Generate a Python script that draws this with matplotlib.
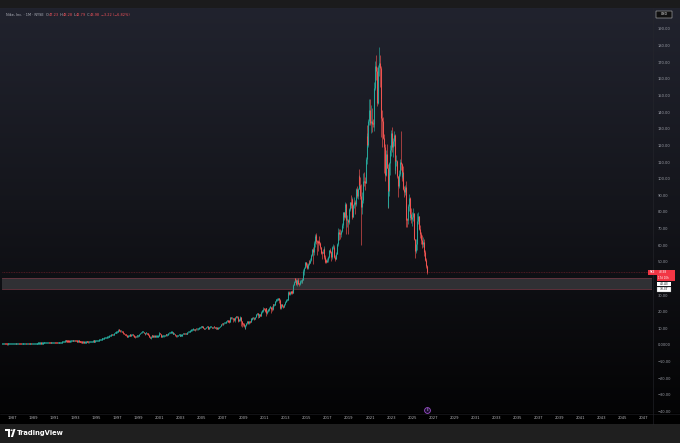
import numpy as np
import matplotlib
matplotlib.use("Agg")
import matplotlib.pyplot as plt
from matplotlib.patches import Rectangle, Polygon, Circle

# ---------------- data (NKE monthly) ----------------
start_year = 1986
first_open = 0.29
closes = [
    0.30, 0.32, 0.34, 0.36, 0.33, 0.31, 0.29, 0.30, 0.31, 0.33, 0.35, 0.36,  # 1986
    0.38, 0.42, 0.45, 0.47, 0.44, 0.46, 0.50, 0.52, 0.49, 0.36, 0.34, 0.36,  # 1987
    0.38, 0.40, 0.42, 0.44, 0.43, 0.45, 0.47, 0.46, 0.48, 0.50, 0.49, 0.52,  # 1988
    0.55, 0.58, 0.62, 0.66, 0.70, 0.75, 0.80, 0.86, 0.90, 0.84, 0.88, 0.92,  # 1989
    0.95, 1.00, 1.05, 1.10, 1.18, 1.22, 1.15, 0.98, 0.95, 1.02, 1.10, 1.12,  # 1990
    1.18, 1.05, 0.98, 0.95, 1.05, 1.10, 1.15, 1.30, 1.45, 1.60, 1.75, 2.05,  # 1991
    2.15, 2.25, 2.10, 2.05, 2.00, 1.95, 2.10, 2.20, 2.30, 2.45, 2.40, 2.55,  # 1992
    2.35, 2.20, 2.05, 2.10, 2.00, 1.85, 1.65, 1.50, 1.40, 1.45, 1.35, 1.45,  # 1993
    1.60, 1.75, 1.55, 1.50, 1.60, 1.65, 1.85, 1.95, 2.00, 2.10, 2.05, 2.20,  # 1994
    2.35, 2.50, 2.65, 2.75, 2.95, 3.20, 3.45, 3.55, 3.75, 3.95, 4.20, 4.35,  # 1995
    4.55, 4.80, 4.95, 5.25, 5.60, 6.20, 6.10, 6.25, 7.00, 7.30, 7.40, 7.50,  # 1996
    8.10, 9.20, 8.70, 8.20, 8.30, 7.90, 7.60, 7.00, 6.40, 6.10, 6.00, 5.00,  # 1997
    5.30, 5.70, 5.75, 5.60, 5.90, 6.10, 5.70, 4.90, 4.70, 5.20, 5.10, 5.10,  # 1998
    5.60, 6.50, 7.10, 7.60, 7.90, 8.00, 7.20, 6.40, 7.10, 7.30, 6.60, 6.20,  # 1999
    4.90, 4.30, 4.95, 5.40, 5.30, 4.98, 5.10, 5.00, 5.00, 5.00, 5.40, 6.98,  # 2000
    7.10, 6.70, 5.07, 5.22, 5.22, 5.25, 5.90, 6.25, 5.85, 6.20, 6.90, 7.03,  # 2001
    7.43, 7.45, 7.50, 6.68, 6.70, 6.71, 6.00, 5.40, 5.40, 5.90, 6.00, 5.56,  # 2002
    5.57, 5.60, 6.43, 6.69, 6.68, 6.69, 6.45, 6.70, 7.60, 7.70, 8.00, 8.56,  # 2003
    8.72, 9.30, 9.74, 9.00, 8.85, 9.47, 9.40, 9.40, 9.85, 10.16, 10.55, 11.34,  # 2004
    10.80, 10.83, 10.42, 9.60, 10.25, 10.82, 11.45, 9.86, 10.21, 10.51, 10.80, 10.85,  # 2005
    10.05, 10.75, 10.64, 10.22, 10.00, 10.12, 9.88, 10.08, 10.95, 11.47, 12.40, 12.38,  # 2006
    12.35, 13.05, 13.28, 13.47, 14.12, 14.57, 14.10, 14.06, 14.67, 16.57, 16.00, 16.06,  # 2007
    15.40, 15.22, 17.00, 16.70, 17.09, 14.90, 14.68, 15.02, 16.72, 14.48, 12.77, 12.75,  # 2008
    11.28, 10.01, 11.72, 13.12, 14.27, 12.95, 14.16, 13.80, 16.17, 15.55, 16.14, 16.51,  # 2009
    15.45, 16.93, 18.38, 18.98, 18.10, 16.89, 18.43, 17.52, 20.03, 20.36, 21.76, 21.36,  # 2010
    20.62, 22.27, 18.93, 20.58, 21.08, 22.50, 22.58, 21.64, 21.38, 24.08, 24.06, 24.09,  # 2011
    26.66, 27.06, 27.12, 27.97, 27.03, 21.95, 23.34, 24.34, 23.73, 22.85, 24.36, 25.80,  # 2012
    27.03, 27.14, 29.51, 31.80, 30.85, 31.84, 31.46, 31.45, 36.32, 37.88, 39.56, 39.32,  # 2013
    36.43, 39.16, 36.93, 36.48, 38.46, 38.77, 38.57, 39.27, 44.61, 46.49, 49.64, 48.08,  # 2014
    46.13, 48.62, 50.17, 49.42, 50.84, 54.01, 57.61, 55.88, 61.48, 65.52, 65.50, 62.50,  # 2015
    62.00, 61.58, 61.47, 58.94, 55.22, 55.20, 55.81, 57.64, 52.65, 50.18, 50.05, 50.83,  # 2016
    52.95, 57.15, 55.73, 55.41, 52.99, 59.00, 59.05, 52.81, 51.85, 54.99, 60.41, 62.55,  # 2017
    68.22, 67.01, 66.44, 68.39, 71.84, 79.68, 76.91, 82.31, 84.72, 75.04, 75.11, 74.14,  # 2018
    81.88, 85.93, 84.21, 87.84, 77.14, 83.95, 86.03, 84.50, 93.92, 89.55, 93.49, 101.31,  # 2019
    96.30, 89.38, 82.74, 87.19, 98.58, 98.05, 97.61, 111.89, 125.54, 120.08, 134.77, 141.47,  # 2020
    133.58, 134.81, 132.89, 132.62, 136.46, 154.49, 167.51, 164.74, 145.23, 167.29, 169.24, 166.67,  # 2021
    148.07, 136.54, 134.56, 124.70, 118.85, 102.20, 114.92, 106.44, 83.12, 92.68, 109.44, 117.01,  # 2022
    127.33, 118.93, 122.64, 126.54, 105.24, 110.37, 110.39, 101.73, 95.62, 102.78, 110.24, 108.57,  # 2023
    101.54, 103.93, 93.98, 92.26, 95.05, 75.37, 74.90, 83.31, 88.40, 77.12, 78.86, 75.67,  # 2024
    77.08, 79.41, 63.48, 56.41, 60.58, 71.04, 74.70, 77.50, 69.70, 66.80, 63.10, 60.90,  # 2025
    62.20, 58.40, 55.80, 51.30, 47.20, 43.98,  # 2026
]
highs = [
    0.31, 0.33, 0.35, 0.37, 0.37, 0.34, 0.32, 0.31, 0.32, 0.34, 0.36, 0.37,
    0.39, 0.43, 0.46, 0.48, 0.48, 0.47, 0.51, 0.54, 0.53, 0.50, 0.38, 0.37,
    0.39, 0.41, 0.43, 0.45, 0.45, 0.46, 0.48, 0.48, 0.49, 0.51, 0.51, 0.53,
    0.56, 0.60, 0.63, 0.67, 0.72, 0.77, 0.82, 0.88, 0.93, 0.91, 0.90, 0.95,
    0.98, 1.03, 1.08, 1.13, 1.21, 1.26, 1.24, 1.16, 1.01, 1.05, 1.13, 1.16,
    1.22, 1.20, 1.08, 1.01, 1.08, 1.14, 1.19, 1.33, 1.49, 1.64, 1.79, 2.10,
    2.22, 2.30, 2.28, 2.15, 2.09, 2.04, 2.14, 2.25, 2.35, 2.50, 2.50, 2.60,
    2.58, 2.40, 2.24, 2.16, 2.13, 2.03, 1.88, 1.68, 1.54, 1.50, 1.48, 1.48,
    1.63, 1.79, 1.77, 1.58, 1.63, 1.69, 1.88, 1.99, 2.05, 2.15, 2.14, 2.24,
    2.40, 2.55, 2.70, 2.82, 3.00, 3.26, 3.52, 3.62, 3.83, 4.02, 4.28, 4.45,
    4.65, 4.90, 5.08, 5.35, 5.72, 6.35, 6.40, 6.40, 7.12, 7.45, 7.60, 7.65,
    8.30, 9.55, 9.35, 8.80, 8.65, 8.50, 8.10, 7.70, 7.10, 6.70, 6.35, 6.10,
    5.45, 5.85, 5.95, 5.90, 6.05, 6.35, 6.20, 5.80, 5.10, 5.35, 5.55, 5.30,
    5.75, 6.65, 7.25, 7.85, 8.20, 8.25, 8.10, 7.40, 7.30, 7.55, 7.45, 6.90,
    6.30, 5.10, 5.10, 5.60, 5.70, 5.55, 5.40, 5.30, 5.35, 5.25, 5.60, 7.10,
    7.40, 7.30, 6.75, 5.55, 5.60, 5.45, 6.05, 6.45, 6.40, 6.30, 7.05, 7.35,
    7.60, 7.65, 7.70, 7.55, 7.05, 7.00, 6.85, 6.10, 5.80, 6.05, 6.30, 6.15,
    5.90, 5.80, 6.50, 6.80, 6.95, 6.95, 6.85, 6.85, 7.70, 7.90, 8.20, 8.60,
    8.95, 9.45, 9.85, 9.85, 9.15, 9.55, 9.65, 9.60, 9.95, 10.30, 10.70, 11.40,
    11.45, 11.25, 11.00, 10.45, 10.35, 10.95, 11.55, 11.50, 10.35, 10.65, 11.00, 11.10,
    10.90, 10.85, 10.95, 10.70, 10.35, 10.25, 10.20, 10.25, 11.00, 11.60, 12.45, 12.60,
    12.70, 13.30, 13.45, 13.75, 14.40, 14.90, 15.10, 14.45, 14.90, 16.90, 16.80, 16.45,
    16.10, 16.00, 17.10, 17.20, 17.60, 17.30, 15.40, 15.50, 17.40, 16.90, 14.60, 13.30,
    13.00, 11.60, 12.10, 13.50, 14.50, 14.50, 14.40, 14.50, 16.40, 16.80, 16.40, 16.90,
    16.70, 17.10, 18.70, 19.50, 19.30, 18.60, 18.80, 18.70, 20.20, 20.80, 22.70, 22.00,
    22.00, 22.50, 22.40, 20.80, 21.60, 22.70, 23.50, 22.70, 23.50, 24.40, 24.70, 24.60,
    26.70, 27.90, 28.30, 28.50, 28.00, 27.80, 23.80, 24.80, 24.90, 24.20, 24.90, 26.20,
    27.50, 27.70, 29.90, 32.20, 32.50, 32.70, 32.60, 32.80, 36.60, 38.60, 40.40, 39.80,
    39.40, 39.70, 40.30, 37.50, 38.90, 39.30, 39.70, 40.10, 45.40, 46.70, 50.10, 49.90,
    49.50, 49.30, 50.90, 50.80, 52.10, 54.50, 57.90, 58.90, 62.30, 66.50, 67.30, 66.20,
    63.30, 62.90, 65.40, 62.20, 59.20, 56.60, 57.50, 59.80, 58.60, 53.90, 51.70, 52.50,
    53.20, 57.40, 58.40, 56.50, 56.10, 59.60, 60.50, 59.90, 54.10, 56.00, 61.30, 64.20,
    70.20, 70.00, 69.60, 69.40, 73.20, 80.20, 80.20, 83.90, 86.00, 85.50, 78.30, 76.00,
    82.50, 86.20, 90.00, 89.00, 88.00, 85.00, 89.00, 87.00, 94.50, 95.40, 94.60, 102.20,
    105.60, 101.00, 96.50, 92.00, 103.50, 104.10, 100.80, 113.10, 127.20, 132.00, 135.80, 147.90,
    147.90, 144.30, 142.50, 136.00, 147.90, 158.10, 170.60, 174.40, 167.10, 168.50, 179.10, 174.40,
    167.50, 149.50, 141.40, 137.20, 127.10, 121.00, 117.20, 120.60, 109.00, 96.00, 109.90, 120.00,
    129.20, 131.30, 124.50, 128.70, 126.90, 112.00, 114.50, 111.20, 100.50, 105.10, 112.00, 128.70,
    109.40, 108.00, 107.40, 95.80, 96.40, 98.60, 76.50, 84.60, 90.60, 89.00, 82.40, 82.40,
    80.20, 82.60, 79.50, 64.00, 63.70, 72.50, 79.10, 80.20, 77.80, 72.20, 68.00, 66.00,
    64.90, 63.80, 59.90, 57.10, 52.40, 48.28,
]
lows = [
    0.28, 0.29, 0.32, 0.33, 0.32, 0.30, 0.28, 0.28, 0.29, 0.30, 0.32, 0.34,
    0.35, 0.37, 0.41, 0.43, 0.43, 0.43, 0.45, 0.49, 0.48, 0.32, 0.32, 0.33,
    0.35, 0.37, 0.39, 0.41, 0.42, 0.42, 0.44, 0.45, 0.45, 0.47, 0.48, 0.48,
    0.51, 0.54, 0.57, 0.61, 0.65, 0.69, 0.74, 0.79, 0.85, 0.81, 0.83, 0.86,
    0.89, 0.93, 0.98, 1.03, 1.09, 1.16, 1.12, 0.95, 0.90, 0.93, 1.01, 1.07,
    1.10, 1.02, 0.94, 0.91, 0.94, 1.03, 1.08, 1.13, 1.28, 1.43, 1.57, 1.73,
    2.01, 2.10, 2.05, 1.98, 1.95, 1.90, 1.92, 2.06, 2.16, 2.26, 2.34, 2.37,
    2.30, 2.15, 2.00, 2.01, 1.95, 1.80, 1.60, 1.45, 1.35, 1.37, 1.30, 1.33,
    1.42, 1.58, 1.52, 1.45, 1.47, 1.56, 1.62, 1.82, 1.91, 1.96, 2.00, 2.02,
    2.18, 2.30, 2.45, 2.60, 2.72, 2.90, 3.15, 3.35, 3.50, 3.70, 3.90, 4.12,
    4.25, 4.48, 4.70, 4.90, 5.20, 5.55, 5.80, 5.95, 6.20, 6.90, 7.10, 7.15,
    7.40, 8.00, 8.30, 7.70, 7.90, 7.70, 7.30, 6.80, 6.30, 5.80, 5.60, 4.90,
    4.80, 5.20, 5.50, 5.40, 5.50, 5.75, 5.55, 4.75, 4.20, 4.55, 4.90, 4.80,
    5.00, 5.50, 6.35, 7.00, 7.40, 7.60, 7.05, 6.20, 6.30, 6.80, 6.40, 6.00,
    4.75, 3.90, 3.40, 4.80, 5.00, 4.80, 4.75, 4.85, 4.80, 4.60, 4.90, 5.30,
    6.50, 6.30, 4.90, 4.60, 5.00, 4.95, 5.20, 5.70, 5.30, 5.60, 6.10, 6.70,
    6.90, 7.10, 7.20, 6.60, 6.45, 6.40, 5.40, 5.00, 4.95, 5.20, 5.70, 5.45,
    5.35, 5.40, 5.55, 6.30, 6.55, 6.55, 6.40, 6.35, 6.60, 7.35, 7.60, 7.90,
    8.35, 8.65, 9.15, 8.90, 8.50, 8.80, 9.05, 9.10, 9.30, 9.55, 10.10, 10.50,
    10.60, 10.65, 10.25, 9.40, 9.55, 10.20, 10.75, 9.70, 9.75, 10.05, 10.40, 10.60,
    9.95, 10.00, 10.45, 10.10, 9.75, 9.75, 9.60, 9.70, 10.05, 10.80, 11.45, 12.05,
    11.95, 12.20, 12.70, 13.15, 13.40, 13.85, 13.80, 13.00, 13.90, 14.60, 15.50, 15.50,
    13.60, 14.50, 14.10, 16.30, 16.40, 14.80, 13.90, 14.40, 14.40, 11.40, 10.70, 11.60,
    10.90, 9.90, 9.60, 11.40, 12.80, 12.60, 12.70, 13.30, 13.60, 15.40, 15.20, 15.90,
    15.30, 15.40, 16.70, 18.20, 16.50, 16.80, 16.70, 17.40, 17.60, 19.50, 20.10, 20.90,
    20.00, 20.40, 17.60, 18.80, 20.00, 20.20, 22.00, 19.30, 20.50, 20.90, 21.90, 23.20,
    23.90, 25.70, 26.60, 26.90, 25.40, 21.80, 21.70, 22.70, 22.90, 22.10, 22.60, 24.00,
    25.90, 26.20, 27.00, 28.80, 30.30, 29.80, 30.60, 30.90, 31.30, 35.90, 37.70, 37.90,
    35.90, 35.60, 36.50, 35.30, 36.00, 37.30, 37.20, 37.50, 39.30, 42.30, 46.20, 46.60,
    45.40, 45.90, 48.10, 48.40, 49.20, 50.60, 53.50, 48.50, 54.00, 58.80, 62.60, 60.80,
    54.30, 56.40, 60.40, 58.00, 54.40, 51.50, 55.00, 55.50, 51.60, 49.00, 49.00, 49.90,
    50.00, 52.30, 55.20, 54.20, 50.40, 51.90, 57.60, 52.40, 50.40, 51.50, 54.60, 59.70,
    62.30, 63.00, 63.50, 65.20, 67.90, 70.50, 75.40, 76.10, 79.80, 66.50, 70.80, 66.50,
    73.00, 80.70, 82.20, 83.00, 76.00, 77.00, 82.50, 78.90, 83.80, 88.20, 88.00, 93.50,
    95.00, 87.80, 60.00, 78.50, 85.50, 95.50, 93.30, 97.10, 108.70, 119.70, 119.00, 132.00,
    132.10, 127.60, 128.00, 131.20, 128.40, 130.90, 153.50, 159.50, 143.90, 145.00, 162.00, 155.00,
    145.00, 125.30, 119.10, 123.90, 103.50, 98.80, 101.80, 106.30, 82.20, 82.30, 89.30, 102.20,
    113.60, 116.00, 113.20, 119.40, 103.60, 102.60, 107.60, 100.10, 88.70, 94.50, 101.80, 105.00,
    98.80, 100.10, 92.90, 88.90, 90.00, 70.80, 70.80, 73.00, 80.50, 76.90, 75.00, 73.30,
    71.30, 74.40, 63.00, 52.30, 55.00, 57.30, 70.40, 72.70, 69.40, 64.20, 60.80, 58.60,
    58.90, 56.80, 53.20, 50.20, 46.10, 42.79,
]

year_ticks = list(range(1987, 2048, 2))
price_ticks = [190, 180, 170, 160, 150, 140, 130, 120, 110, 100, 90, 80, 70,
               60, 50, 40, 30, 20, 10, 0, -10, -20, -30, -40]
zone_low, zone_high = 33.37, 40.43
last_price = 43.98
countdown = "17d 10h"
event_x = 2026.45

title_line = "Cryptomide created with TradingView.com, Jun 07, 2026 12:12 UTC+2"
legend_name = "Nike, Inc. \u00b7 1M \u00b7 NYSE  "
legend_vals = [("O", "47.23"), (" H", "48.28"), (" L", "42.79"), (" C", "43.98"),
               (" ", "\u22123.22 (\u22126.82%)")]

UP = "#26a69a"
DOWN = "#ef5350"

# ---------------- figure ----------------
W, H = 680, 443
fig = plt.figure(figsize=(W / 100, H / 100), dpi=100)
fig.patch.set_facecolor("#000000")


def fx(px):
    return px / W


def fy(py):
    return 1 - py / H


def px_rect(x0, y0, x1, y1, **kw):
    r = Rectangle((fx(x0), fy(y1)), fx(x1) - fx(x0), fy(y0) - fy(y1),
                  transform=fig.transFigure, **kw)
    fig.patches.append(r)
    return r


# gradient background for the chart pane
bg = fig.add_axes([0, fy(413), 1, fy(8) - fy(413)], zorder=0)
t = np.linspace(0, 1, 256)[:, None]
top = np.array([33, 35, 46]) / 255
mid = np.array([20, 21, 27]) / 255
bot = np.array([4, 4, 5]) / 255
grad = np.where(t < 0.5, top + (mid - top) * (t / 0.5), mid + (bot - mid) * ((t - 0.5) / 0.5))
bg.imshow(grad[:, None, :].repeat(2, axis=1), aspect="auto", extent=[0, 1, 0, 1])
bg.set_axis_off()

# bars: header, time axis, footer
px_rect(0, 0, W, 8, facecolor="#1b1b1c", edgecolor="none", zorder=5)
px_rect(0, 413, W, 424, facecolor="#000000", edgecolor="none", zorder=1)
px_rect(0, 424, W, H, facecolor="#1f1f1f", edgecolor="none", zorder=1)

ax = fig.add_axes([fx(2), fy(413), fx(652) - fx(2), fy(8) - fy(413)], zorder=2)
ax.set_facecolor("none")
ax.set_xlim(1986.05, 2047.78)
ax.set_ylim(-40.9, 202.6)
for s in ax.spines.values():
    s.set_visible(False)

# zone
ax.axhspan(zone_low, zone_high, facecolor="#303034", edgecolor="none", zorder=1)
ax.axhline(zone_high, color="#6a3540", lw=0.6, zorder=1.1)
ax.axhline(zone_low, color="#6a3540", lw=0.6, zorder=1.1)
# last price line
ax.axhline(last_price, color="#f23645", lw=0.4, ls=(0, (1.5, 1.5)), alpha=0.55, zorder=1.2)

# candles
n = len(closes)
xs = start_year + np.arange(n) / 12.0
opens = np.array([first_open] + closes[:-1])
c = np.array(closes)
hi = np.maximum(np.array(highs), np.maximum(opens, c))
lo = np.minimum(np.array(lows), np.minimum(opens, c))
colors = np.where(c >= opens, UP, DOWN)
min_h = 0.75  # keep tiny candles visible (about one pixel)
wick_hi = np.where(hi - lo < min_h, lo + min_h, hi)
ax.vlines(xs, lo, wick_hi, colors=colors, lw=0.45, zorder=3)
body_lo = np.minimum(opens, c)
body_hi = np.maximum(opens, c)
body_hi = np.where(body_hi - body_lo < min_h, body_lo + min_h, body_hi)
ax.vlines(xs, body_lo, body_hi, colors=colors, lw=0.75, zorder=3.1)

# event marker
ax.plot([event_x], [-39.0], marker="o", ms=4.2, mfc="#1d1030", mec="#9c4dcc",
        mew=0.6, zorder=4, clip_on=False)
ax.text(event_x, -39.0, "E", fontsize=1.8, color="#d9b3ff", ha="center",
        va="center", zorder=5)

# axes ticks
ax.set_xticks(year_ticks)
ax.set_xticklabels([str(y) for y in year_ticks])
ax.tick_params(axis="x", length=0, pad=2.4, labelsize=2.7, labelcolor="#b4b4b8")
ax.yaxis.tick_right()
ax.set_yticks(price_ticks)
ax.set_yticklabels([("0.0000" if v == 0 else f"{v:.2f}".replace("-", "\u2212"))
                    for v in price_ticks])
ax.tick_params(axis="y", length=0, pad=4.2, labelsize=2.6, labelcolor="#9a9da6")

# separators
fig.lines.append(plt.Line2D([fx(652.5), fx(652.5)], [fy(8), fy(424)],
                            transform=fig.transFigure, color="#26272d", lw=0.4))
fig.lines.append(plt.Line2D([0, 1], [fy(413.5), fy(413.5)],
                            transform=fig.transFigure, color="#222226", lw=0.4))

# header texts
fig.text(fx(2), fy(4), title_line, fontsize=2.5, color="#d6d6d6", va="center", ha="left")
pieces = []
for lab, val in legend_vals:
    pieces.append((lab, "#b2b5be"))
    pieces.append((val, "#f0525a"))
anchor = fig.text(fx(6), fy(14.5), legend_name, fontsize=2.5, color="#b2b5be",
                  va="center", ha="left")
for txt, col in pieces:
    anchor = ax.annotate(txt, xy=(1, 0.5), xycoords=anchor, fontsize=2.5, color=col,
                         va="center", ha="left", annotation_clip=False)

# USD box
px_rect(656, 10.5, 672, 18, facecolor="#101010", edgecolor="#cfcfcf", lw=0.35, zorder=6)
fig.text(fx(664), fy(14.3), "USD", fontsize=2.3, color="#e8e8e8", ha="center",
         va="center", zorder=7)

# price labels
px_rect(648, 270, 657, 274.5, facecolor="#f23645", edgecolor="none", zorder=6)
fig.text(fx(652.5), fy(272.3), "NKE", fontsize=1.9, color="white", ha="center",
         va="center", zorder=7)
px_rect(657, 269.5, 675, 281, facecolor="#f23645", edgecolor="none", zorder=6)
fig.text(fx(658.5), fy(272.2), f"{last_price:.2f}", fontsize=2.1, color="white",
         ha="left", va="center", zorder=7)
fig.text(fx(658.5), fy(278.4), countdown, fontsize=1.9, color="white",
         ha="left", va="center", zorder=7)
px_rect(657, 281.5, 671, 286.3, facecolor="white", edgecolor="none", zorder=6)
fig.text(fx(664), fy(284), f"{zone_high:.2f}", fontsize=2.2, color="black",
         ha="center", va="center", zorder=7)
px_rect(657, 286.7, 671, 291.5, facecolor="white", edgecolor="#777777", lw=0.2, zorder=6)
fig.text(fx(664), fy(289.2), f"{zone_low:.2f}", fontsize=2.2, color="black",
         ha="center", va="center", zorder=7)

# footer logo
logo_T = Polygon([(fx(5), fy(429)), (fx(10), fy(429)), (fx(10), fy(437)),
                  (fx(8), fy(437)), (fx(8), fy(431)), (fx(5), fy(431))],
                 closed=True, transform=fig.transFigure, facecolor="white",
                 edgecolor="none", zorder=3)
fig.patches.append(logo_T)
fig.patches.append(Circle((fx(11.6), fy(430.2)), 1.1 / W, transform=fig.transFigure,
                          facecolor="white", edgecolor="none", zorder=3))
logo_V = Polygon([(fx(13.5), fy(429)), (fx(15.5), fy(429)), (fx(13), fy(437)),
                  (fx(10.8), fy(437))], closed=True, transform=fig.transFigure,
                 facecolor="white", edgecolor="none", zorder=3)
fig.patches.append(logo_V)
fig.text(fx(16.5), fy(433.2), "TradingView", fontsize=4.9, color="white",
         ha="left", va="center", fontweight="bold", zorder=3)

fig.savefig("out.png", dpi=100, facecolor=fig.get_facecolor())
